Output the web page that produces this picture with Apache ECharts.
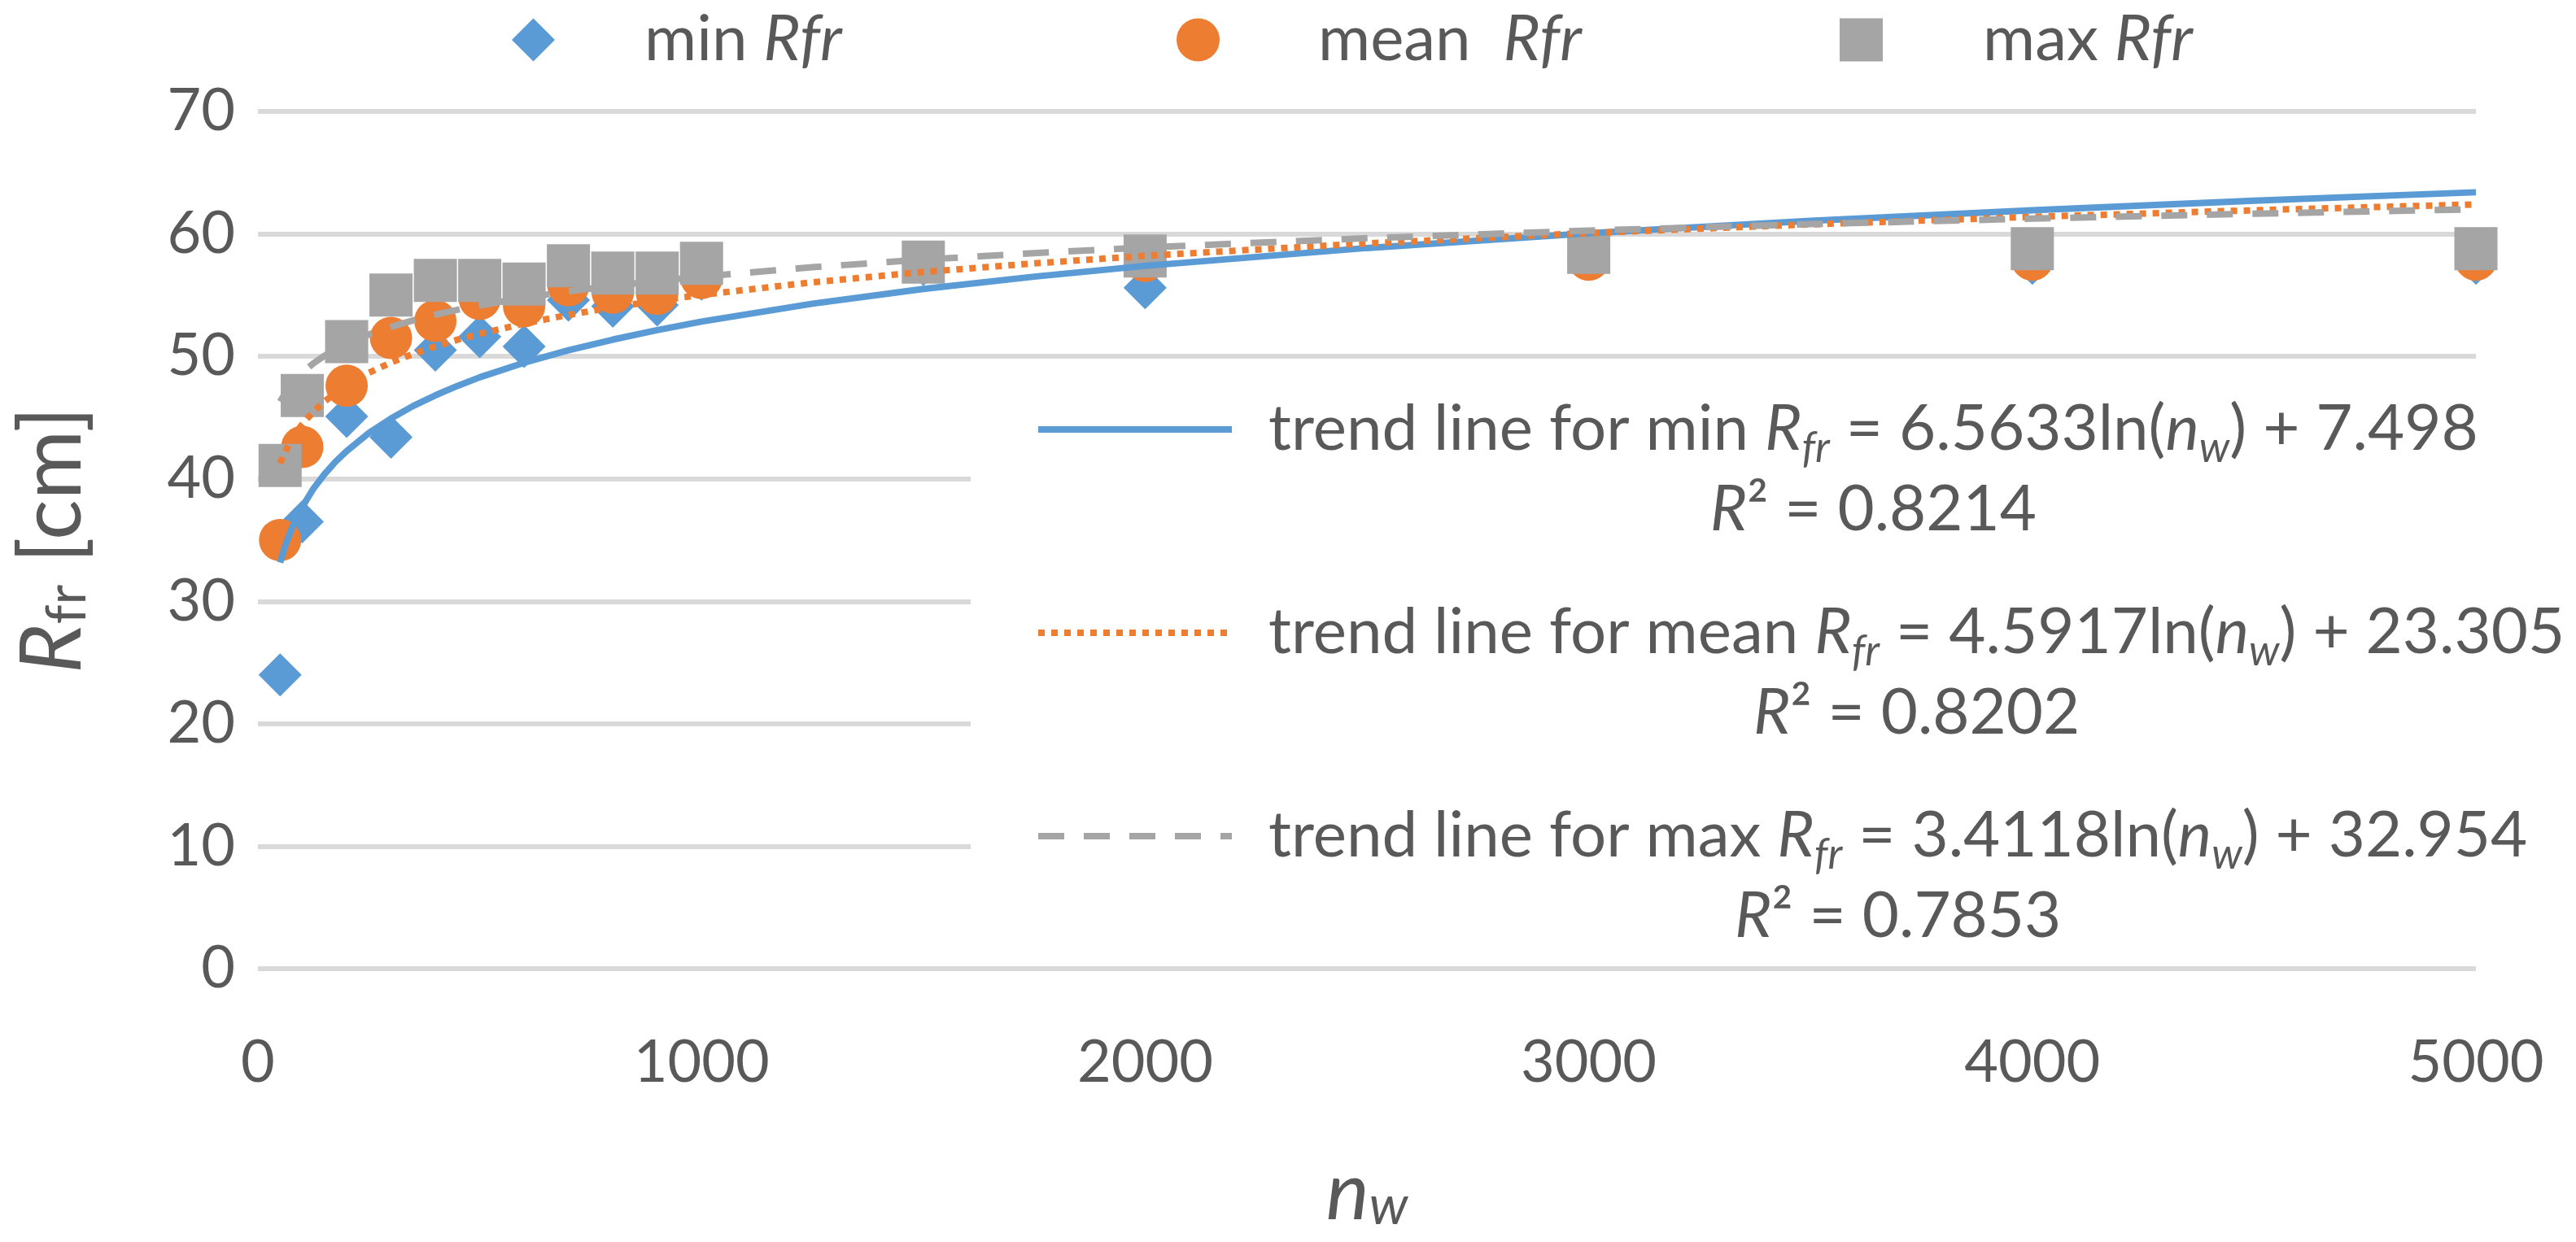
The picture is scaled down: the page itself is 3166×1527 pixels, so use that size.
<!DOCTYPE html>
<html>
<head>
<meta charset="utf-8">
<script src="https://cdn.jsdelivr.net/npm/echarts@6/dist/echarts.min.js"></script>
<style>
html,body{margin:0;padding:0;background:#ffffff;}
#chart{width:3166px;height:1527px;}
</style>
</head>
<body>
<div id="chart"></div>
<script>
// ---- data ----
const nw = [50, 100, 200, 300, 400, 500, 600, 700, 800, 900, 1000, 1500, 2000, 3000, 4000, 5000];
const minRfr  = [24.0, 36.5, 45.1, 43.4, 50.5, 51.6, 50.8, 54.6, 54.1, 54.2, 56.3, 57.5, 55.6, 58.0, 57.6, 57.6];
const meanRfr = [35.0, 42.6, 47.6, 51.5, 52.9, 54.7, 54.1, 55.8, 55.2, 55.1, 56.4, 57.7, 57.8, 57.9, 57.9, 57.9];
const maxRfr  = [41.1, 46.8, 51.2, 55.0, 56.2, 56.2, 55.9, 57.4, 56.8, 56.8, 57.6, 57.7, 58.2, 58.5, 58.8, 58.8];

// trend line samples, as drawn in the reference
const trendX    = [50, 60, 70, 80, 90, 100, 125, 150, 175, 200, 250, 300, 350, 400, 450, 500, 600, 700, 800, 900, 1000, 1250, 1500, 1750, 2000, 2500, 3000, 3500, 4000, 4500, 5000];
const trendMin  = [33.17, 34.37, 35.38, 36.26, 37.03, 37.72, 39.19, 40.38, 41.40, 42.27, 43.74, 44.93, 45.95, 46.82, 47.59, 48.29, 49.48, 50.50, 51.37, 52.14, 52.84, 54.30, 55.50, 56.51, 57.39, 58.85, 60.05, 61.06, 61.93, 62.71, 63.40];
const trendMean = [41.27, 42.11, 42.81, 43.43, 43.97, 44.45, 45.48, 46.31, 47.02, 47.63, 48.66, 49.50, 50.20, 50.82, 51.36, 51.84, 52.68, 53.39, 54.00, 54.54, 55.02, 56.05, 56.89, 57.59, 58.21, 59.23, 60.07, 60.78, 61.39, 61.93, 62.41];
const trendMax  = [46.30, 46.92, 47.45, 47.90, 48.31, 48.67, 49.43, 50.05, 50.58, 51.03, 51.79, 52.41, 52.94, 53.40, 53.80, 54.16, 54.78, 55.31, 55.76, 56.16, 56.52, 57.28, 57.90, 58.43, 58.89, 59.65, 60.27, 60.80, 61.25, 61.65, 62.01];

const xAxisRange = {min: 0, max: 5000, interval: 1000};
const yAxisRange = {min: 0, max: 70, interval: 10};

const seriesNames = ['min Rfr', 'mean Rfr', 'max Rfr'];
const trendNames = ['trend min', 'trend mean', 'trend max'];
const trendLabels = {
  'trend min':  {label: 'min',  eq: '6.5633', c: '7.498',  r2: '0.8214'},
  'trend mean': {label: 'mean', eq: '4.5917', c: '23.305', r2: '0.8202'},
  'trend max':  {label: 'max',  eq: '3.4118', c: '32.954', r2: '0.7853'}
};

// ---- styling ----
const FONT = 'Lato';
const TXT = '#595959';
const BLUE = '#5B9BD5', ORANGE = '#ED7D31', GRAY = '#A5A5A5';

function pairs(xs, ys) { return xs.map((x, i) => [x, ys[i]]); }

const legRich = {
  t: {fontFamily: FONT, fontSize: 78, color: TXT, lineHeight: 80},
  i: {fontFamily: FONT, fontSize: 78, color: TXT, fontStyle: 'italic', lineHeight: 80}
};

function topLegend(name, icon, left, gap, label) {
  return {
    data: [name], left: left, top: 10, padding: 0,
    icon: icon, itemWidth: 53, itemHeight: 53,
    selectedMode: false,
    formatter: () => label,
    textStyle: {fontFamily: FONT, fontSize: 78, color: TXT, padding: [0, 0, 0, gap], rich: legRich}
  };
}

const trRich = {
  t: {fontFamily: FONT, fontSize: 78, color: TXT, lineHeight: 99, align: 'center'},
  i: {fontFamily: FONT, fontSize: 78, color: TXT, fontStyle: 'italic', lineHeight: 99, align: 'center'},
  s: {fontFamily: FONT, fontSize: 52, color: TXT, fontStyle: 'italic', lineHeight: 52, verticalAlign: 'bottom', align: 'center'}
};

function trendText(name) {
  const L = trendLabels[name];
  return '{t|trend line for ' + L.label + ' }{i|R}{s|fr}{t| = ' + L.eq + 'ln(}{i|n}{s|w}{t|) + ' + L.c + '}\n' +
         '{i|R}{t|² = ' + L.r2 + '}';
}

const trendLegend = {
  data: trendNames, orient: 'vertical',
  left: 1193, top: 465,
  padding: [24, 8, 0, 79],
  backgroundColor: '#ffffff',
  itemWidth: 238, itemHeight: 2, itemGap: 73,
  selectedMode: false,
  lineStyle: {width: 8},
  itemStyle: {color: 'rgba(0,0,0,0)', borderWidth: 0, opacity: 0},
  formatter: trendText,
  textStyle: {fontFamily: FONT, fontSize: 78, color: TXT, padding: [99, 0, 0, 40], rich: trRich}
};

const option = {
  animation: false,
  backgroundColor: '#ffffff',
  grid: {left: 317, right: 123, top: 137, bottom: 336, containLabel: false, outerBoundsMode: 'none'},
  legend: [
    topLegend(seriesNames[0], 'diamond', 629, 105, '{t|min }{i|Rfr}'),
    topLegend(seriesNames[1], 'circle', 1446, 116, '{t|mean  }{i|Rfr}'),
    topLegend(seriesNames[2], 'rect', 2261, 118, '{t|max }{i|Rfr}'),
    trendLegend
  ],
  xAxis: {
    type: 'value', min: xAxisRange.min, max: xAxisRange.max, interval: xAxisRange.interval,
    axisLine: {show: false}, axisTick: {show: false}, splitLine: {show: false},
    axisLabel: {fontFamily: FONT, fontSize: 72, color: TXT, margin: 80, formatter: v => String(v)},
    name: '{i|n}{s|w}', nameLocation: 'middle', nameGap: 226,
    nameTextStyle: {
      rich: {
        i: {fontFamily: FONT, fontSize: 100, color: TXT, fontStyle: 'italic', lineHeight: 100},
        s: {fontFamily: FONT, fontSize: 66, color: TXT, fontStyle: 'italic', lineHeight: 66, verticalAlign: 'bottom'}
      }
    }
  },
  yAxis: {
    type: 'value', min: yAxisRange.min, max: yAxisRange.max, interval: yAxisRange.interval,
    axisLine: {show: false}, axisTick: {show: false},
    splitLine: {show: true, lineStyle: {color: '#D9D9D9', width: 6}},
    axisLabel: {fontFamily: FONT, fontSize: 72, color: TXT, margin: 28, formatter: v => String(v)},
    name: '{i|R}{s|fr}{t| [cm]}', nameLocation: 'middle', nameGap: 200,
    nameTextStyle: {
      rich: {
        i: {fontFamily: FONT, fontSize: 104, color: TXT, fontStyle: 'italic', lineHeight: 104},
        s: {fontFamily: FONT, fontSize: 68, color: TXT, lineHeight: 68, verticalAlign: 'bottom'},
        t: {fontFamily: FONT, fontSize: 104, color: TXT, lineHeight: 104}
      }
    }
  },
  series: [
    {name: seriesNames[0], type: 'scatter', symbol: 'diamond', symbolSize: 53, z: 2,
     itemStyle: {color: BLUE, opacity: 1}, data: pairs(nw, minRfr)},
    {name: seriesNames[1], type: 'scatter', symbol: 'circle', symbolSize: 52, z: 2,
     itemStyle: {color: ORANGE, opacity: 1}, data: pairs(nw, meanRfr)},
    {name: seriesNames[2], type: 'scatter', symbol: 'rect', symbolSize: 53, z: 2,
     itemStyle: {color: GRAY, opacity: 1}, data: pairs(nw, maxRfr)},
    {name: trendNames[0], type: 'line', showSymbol: false, symbol: 'none', smooth: false, z: 3,
     itemStyle: {color: BLUE},
     lineStyle: {color: BLUE, width: 8, type: 'solid', cap: 'butt'}, data: pairs(trendX, trendMin)},
    {name: trendNames[1], type: 'line', showSymbol: false, symbol: 'none', smooth: false, z: 3,
     itemStyle: {color: ORANGE},
     lineStyle: {color: ORANGE, width: 8, type: [8, 8], cap: 'butt'}, data: pairs(trendX, trendMean)},
    {name: trendNames[2], type: 'line', showSymbol: false, symbol: 'none', smooth: false, z: 3,
     itemStyle: {color: GRAY},
     lineStyle: {color: GRAY, width: 8, type: [32, 24], cap: 'butt'}, data: pairs(trendX, trendMax)}
  ]
};

const chart = echarts.init(document.getElementById('chart'), null, {renderer: 'canvas'});
chart.setOption(option);
</script>
</body>
</html>
